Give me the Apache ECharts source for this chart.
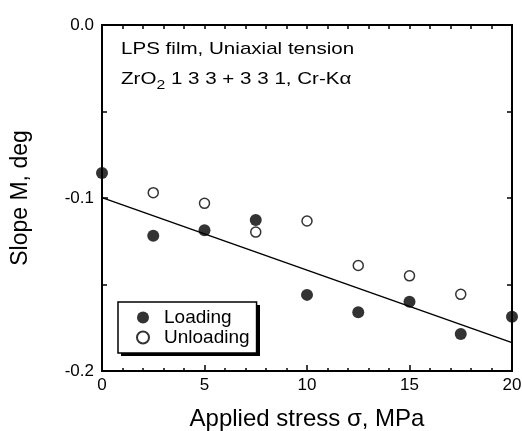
<!DOCTYPE html>
<html>
<head>
<meta charset="utf-8">
<script src="https://cdn.jsdelivr.net/npm/echarts@6/dist/echarts.min.js"></script>
<style>
  html, body { margin: 0; padding: 0; background: #fff; }
  #main { width: 522px; height: 431px; }
</style>
</head>
<body>
<div id="main"></div>
<script>
// stress values (MPa) and slope M (deg)
let stressLoad = [0, 2.5, 5, 7.5, 10, 12.5, 15, 17.5, 20];
let slopeLoad = [-0.0855, -0.1218, -0.1187, -0.1127, -0.156, -0.166, -0.160, -0.1786, -0.1686];
let stressUnload = [2.5, 5, 7.5, 10, 12.5, 15, 17.5];
let slopeUnload = [-0.0969, -0.1031, -0.1197, -0.1133, -0.139, -0.145, -0.1557];
// fitted line end points
let fitX = [0, 20];
let fitY = [-0.0998, -0.1836];

const font = 'Liberation Sans, Arial, sans-serif';

function pairs(xs, ys) {
    let out = [];
    for (let i = 0; i < xs.length; i++) out.push([xs[i], ys[i]]);
    return out;
}

let myChart = echarts.init(document.getElementById('main'));

function lineCfg() {
    return { show: true, onZero: false, lineStyle: { color: '#000', width: 2 } };
}
function tickCfg(len) {
    return { show: true, inside: true, length: len, lineStyle: { color: '#000', width: 1.5 } };
}
function minorCfg(n, len) {
    return { show: true, splitNumber: n, length: len, lineStyle: { color: '#000', width: 1.5 } };
}
// mirror axes: labels kept but invisible, so the axis is drawn like a normal one
function hiddenLabel() {
    return { show: true, color: 'rgba(0,0,0,0)', fontSize: 10 };
}

let option = {
    animation: false,
    backgroundColor: '#fff',
    grid: {
        left: 102, right: 10, top: 25, bottom: 60,
        outerBoundsMode: 'none',
        show: true, borderColor: '#000', borderWidth: 2
    },
    xAxis: [
        {
            type: 'value', min: 0, max: 20, interval: 5,
            axisLine: lineCfg(),
            axisTick: tickCfg(6),
            minorTick: minorCfg(5, 3),
            splitLine: { show: false },
            axisLabel: { color: '#000', fontSize: 17, fontFamily: font, margin: 6 },
            name: 'Applied stress σ, MPa',
            nameLocation: 'middle',
            nameGap: 36,
            nameTextStyle: { color: '#000', fontSize: 24, fontFamily: font }
        },
        {
            type: 'value', min: 0, max: 20, interval: 5, position: 'top',
            axisLine: lineCfg(),
            axisTick: tickCfg(4),
            minorTick: minorCfg(5, 4),
            splitLine: { show: false },
            axisLabel: hiddenLabel()
        }
    ],
    yAxis: [
        {
            type: 'value', min: -0.2, max: 0, interval: 0.1,
            axisLine: lineCfg(),
            axisTick: tickCfg(6),
            minorTick: minorCfg(2, 5),
            splitLine: { show: false },
            axisLabel: {
                color: '#000', fontSize: 17, fontFamily: font, margin: 8,
                formatter: v => v.toFixed(1)
            },
            name: 'Slope M, deg',
            nameLocation: 'middle',
            nameGap: 70,
            nameTextStyle: { color: '#000', fontSize: 23, fontFamily: font }
        },
        {
            type: 'value', min: -0.2, max: 0, interval: 0.1, position: 'right',
            axisLine: lineCfg(),
            axisTick: tickCfg(5),
            minorTick: minorCfg(2, 5),
            splitLine: { show: false },
            axisLabel: hiddenLabel()
        }
    ],
    legend: {
        orient: 'vertical',
        left: 118, top: 302,
        data: ['Loading', 'Unloading'],
        itemWidth: 14, itemHeight: 12,
        itemGap: 1,
        padding: [6, 7, 6, 18],
        backgroundColor: '#fff',
        borderColor: '#000', borderWidth: 1.5,
        textStyle: { color: '#000', fontSize: 19, fontFamily: font, padding: [0, 0, 0, 9] }
    },
    graphic: [
        // drop shadow behind the legend box
        {
            type: 'rect', z: 3,
            shape: { x: 121, y: 305, width: 139, height: 51 },
            style: { fill: '#000' }
        },
        {
            type: 'text', x: 121, y: 41, scaleX: 1.21,
            style: { text: 'LPS film, Uniaxial tension', fill: '#000', font: '17px ' + font }
        },
        {
            type: 'text', x: 121, y: 66, scaleX: 1.21,
            style: {
                text: 'ZrO{sub|2} 1 3 3 + 3 3 1, Cr-Kα',
                fill: '#000', font: '17px ' + font,
                rich: { sub: { fontSize: 13, fontFamily: font, padding: [13, 0, 0, 0], fill: '#000' } }
            }
        }
    ],
    series: [
        {
            name: 'Fit', type: 'line',
            data: pairs(fitX, fitY),
            showSymbol: false, symbol: 'none',
            lineStyle: { color: '#000', width: 1.5 },
            z: 1
        },
        {
            name: 'Loading', type: 'scatter',
            data: pairs(stressLoad, slopeLoad),
            symbol: 'circle', symbolSize: 12,
            itemStyle: { color: '#000' },
            z: 3
        },
        {
            name: 'Unloading', type: 'scatter',
            data: pairs(stressUnload, slopeUnload),
            symbol: 'circle', symbolSize: 10,
            itemStyle: { color: '#fff', borderColor: '#000', borderWidth: 1.5 },
            z: 3
        }
    ]
};
myChart.setOption(option);
</script>
</body>
</html>
